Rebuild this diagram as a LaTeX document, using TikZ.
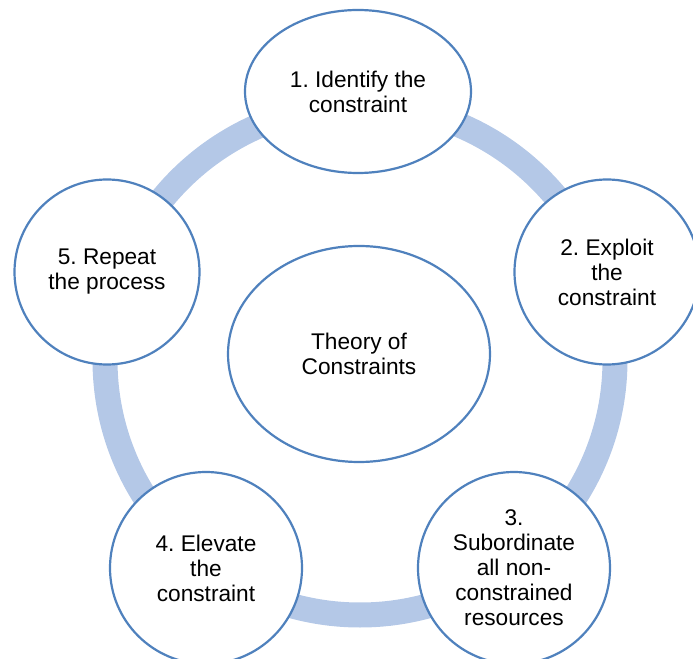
\documentclass[tikz,border=0pt]{standalone}
\usepackage{fontspec}
\setmainfont{Liberation Sans}
\usetikzlibrary{shapes.geometric}
\frenchspacing

\definecolor{ringblue}{RGB}{180,200,231}
\definecolor{edgeblue}{RGB}{79,129,189}

\tikzset{
  stepcircle/.style={circle, draw=edgeblue, line width=1.65pt, fill=white, inner sep=0pt, align=center,
    font=\fontsize{17}{18.8}\selectfont},
  stepoval/.style={ellipse, draw=edgeblue, line width=1.65pt, fill=white, inner sep=0pt, align=center,
    font=\fontsize{17}{18.8}\selectfont},
  ring/.style={draw=ringblue, line width=18.75pt}
}

\begin{document}
\begin{tikzpicture}[x=0.75pt, y=-0.75pt]

% Frame (keeps the page size)
\useasboundingbox (0,0) rectangle (693,659);

% Cycle ring behind the steps
\coordinate (hub) at (360,360);
\draw[ring] (hub) circle[radius=191.25pt];

% Centre
\node[stepoval, minimum width=196.5pt, minimum height=162pt] (theory) at (359,354) {Theory of\\Constraints};

% Steps around the ring
\node[stepoval, minimum width=169.5pt, minimum height=122.25pt] (identify) at (358,91.5) {1. Identify the\\constraint};
\node[stepcircle, minimum size=138.75pt] (exploit) at (607,272) {2. Exploit\\the\\constraint};
\node[stepcircle, minimum size=144pt] (subordinate) at (514,568) {3.\\Subordinate\\all non-\\constrained\\resources};
\node[stepcircle, minimum size=144pt] (elevate) at (206,568) {4. Elevate\\the\\constraint};
\node[stepcircle, minimum size=138.75pt] (repeat) at (107,272) {5. Repeat\\the process};

\end{tikzpicture}
\end{document}
